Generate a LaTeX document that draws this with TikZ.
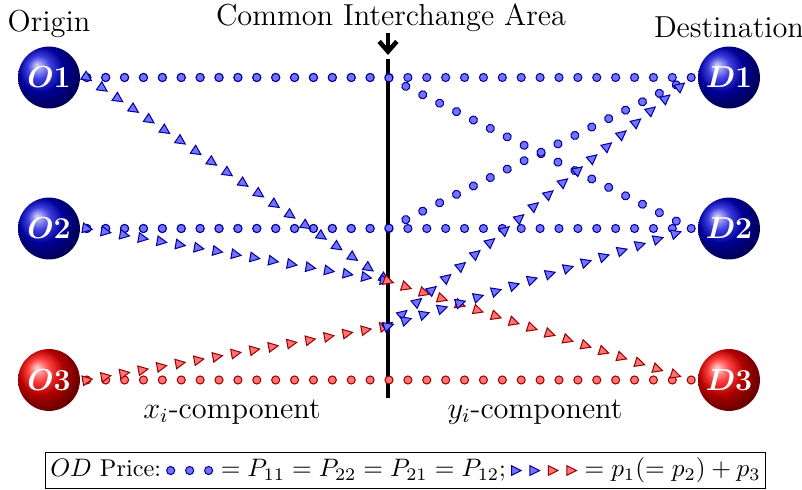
\documentclass[tikz,border=0pt]{standalone}
\usepackage{amsmath}
\usepackage{tikz}
\usetikzlibrary{arrows.meta, positioning, calc, decorations.markings}

\begin{document}
\begin{tikzpicture}[
    x=0.0139cm, y=-0.0139cm,
    odnode/.style={circle, shading=ball, ball color=#1, minimum size=0.86cm, inner sep=0pt, font=\large, text=white},
    bdot/.style={fill=blue!55, draw=blue!60!black, line width=0.4pt},
    rdot/.style={fill=red!55, draw=red!60!black, line width=0.4pt},
    circles/.style={decorate, decoration={markings,
        mark=between positions 0 and 1 step 7.47pt with {\path[#1] (0,0) circle (1.6pt);}}},
    tris/.style={decorate, decoration={markings,
        mark=between positions 0 and 1 step 7.47pt with {\path[#1] (2.2pt,0) -- (-1.6pt,1.9pt) -- (-1.6pt,-1.9pt) -- cycle;}}},
    heading/.style={font=\large, inner sep=2pt},
    icline/.style={line width=1.8pt}
]
\useasboundingbox (0,0) rectangle (802,490);

% Origins and destinations
\node[odnode=blue!85!black] (O1) at (49,77.5) {$\boldsymbol{O1}$};
\node[odnode=blue!85!black] (O2) at (49,228.5) {$\boldsymbol{O2}$};
\node[odnode=red] (O3) at (49,380) {$\boldsymbol{O3}$};
\node[odnode=blue!85!black] (D1) at (729,77.5) {$\boldsymbol{D1}$};
\node[odnode=blue!85!black] (D2) at (729,228.5) {$\boldsymbol{D2}$};
\node[odnode=red] (D3) at (729,380) {$\boldsymbol{D3}$};

\node[heading, above=1pt of O1] (origin) {Origin};
\node[heading, above=1pt of D1] (dest) {Destination};
\node[heading] (ictitle) at (391,18) {Common Interchange Area};

% Common interchange area
\coordinate (ictop) at (388,59);
\coordinate (icbot) at (388,398);
\draw[icline] (ictop) -- (icbot);
\draw[icline, -{Straight Barb[length=4pt, width=7pt]}] ($(ictop)+(0,-26)$) -- ($(ictop)+(0,-4)$);

% path ends
\foreach \i in {1,2,3} {
  \coordinate (o\i) at ($(O\i)+(37.8,0)$);
  \coordinate (d\i) at ($(D\i)-(37.8,0)$);
}
\coordinate (c1) at (ictop |- o1);
\coordinate (c2) at (ictop |- o2);
\coordinate (xa) at (388,281);
\coordinate (xb) at (388,326);

% P paths
\path[circles=bdot] (o1) -- (d1);
\path[circles=bdot] (o2) -- (d2);
\path[circles=rdot] (o3) -- (d3);
\path[circles=bdot] (o1) -- (c1) -- (d2);
\path[circles=bdot] (o2) -- (c2) -- (d1);

% p1, p2, p3 paths
\path[tris=bdot] (o1) -- (xa);
\path[tris=bdot] (o2) -- (xa);
\path[tris=rdot] (xa) -- (d3);
\path[tris=rdot] (o3) -- (xb);
\path[tris=bdot] (xb) -- (d1);
\path[tris=bdot] (xb) -- (d2);

\node[heading] (xcomp) at (232,412) {$x_i$-component};
\node[heading] (ycomp) at (535,412) {$y_i$-component};

% Legend
\node[draw, inner xsep=2pt, inner ysep=2.3pt, font=\fontsize{9.6}{11.5}\selectfont] (legend) at (405.5,470.5) {$OD$ Price:\hspace{2pt}%
  \tikz[baseline=-0.6ex]{\foreach \k in {0,1,2} \path[bdot] (\k*7.5pt,0) circle (1.6pt);}%
  \hspace{3pt}$= P_{11} = P_{22} = P_{21} = P_{12}$;\hspace{2pt}%
  \tikz[baseline=-0.6ex]{\foreach \k/\s in {0/bdot,1/bdot,2/rdot,3/rdot}
    \path[\s] (\k*7.3pt+2.2pt,0) -- (\k*7.3pt-1.6pt,1.9pt) -- (\k*7.3pt-1.6pt,-1.9pt) -- cycle;}%
  \hspace{3pt}$= p_1(= p_2) + p_3$};
\end{tikzpicture}
\end{document}
